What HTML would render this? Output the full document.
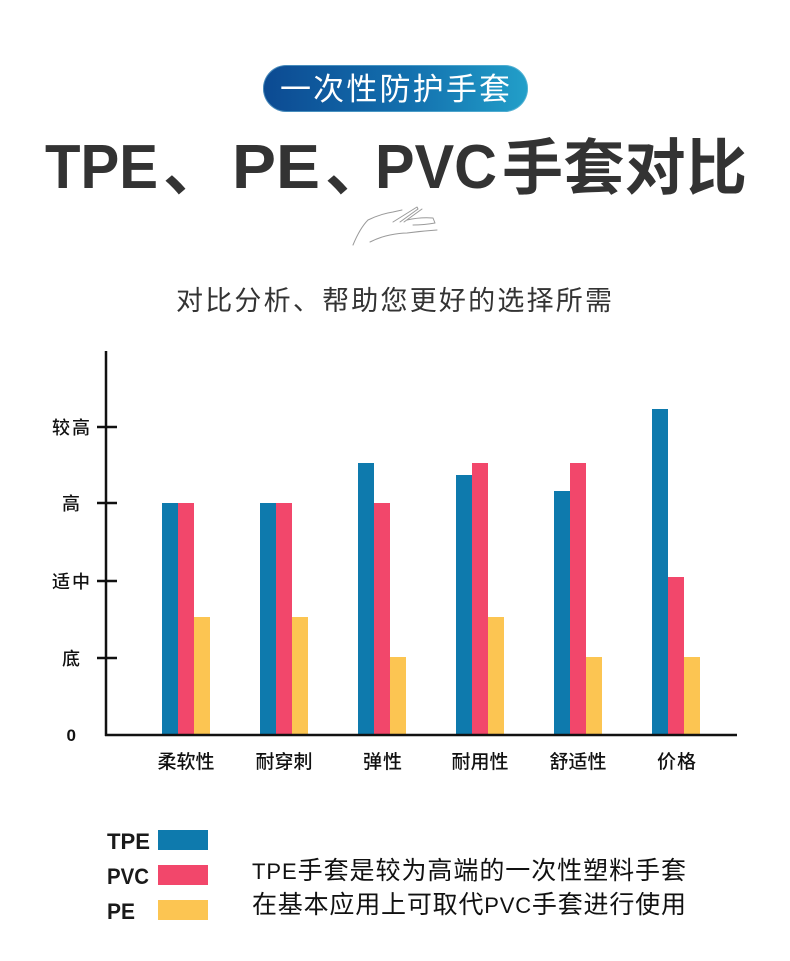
<!DOCTYPE html>
<html>
<head>
<meta charset="utf-8">
<style>
html,body{margin:0;padding:0;background:#fff;}
body{width:790px;height:961px;overflow:hidden;}
svg{display:block;}
</style>
</head>
<body>
<svg width="790" height="961" viewBox="0 0 790 961" xmlns="http://www.w3.org/2000/svg">
  <defs>
    <linearGradient id="bg" x1="0" y1="0" x2="1" y2="0">
      <stop offset="0" stop-color="#0c4a92"/>
      <stop offset="0.55" stop-color="#1370ae"/>
      <stop offset="1" stop-color="#229fc9"/>
    </linearGradient>
  </defs>
  <rect x="0" y="0" width="790" height="961" fill="#fff"/>

  <!-- badge -->
  <rect x="263" y="65" width="265" height="47" rx="23.5" ry="23.5" fill="url(#bg)"/>
  <rect x="263.5" y="65.5" width="264" height="46" rx="23" ry="23" fill="none" stroke="#7fc6e0" stroke-opacity="0.5" stroke-width="1"/>
  <text x="280" y="100" font-size="31" fill="#fff" font-family="Liberation Sans, Noto Sans CJK SC, sans-serif" textLength="230" lengthAdjust="spacing">一次性防护手套</text>

  <!-- title -->
  <g font-family="Liberation Sans, Noto Sans CJK SC, sans-serif" font-weight="bold" fill="#333">
    <text x="45" y="188" font-size="62" textLength="113" lengthAdjust="spacingAndGlyphs">TPE</text>
    <text x="163" y="190" font-size="62">、</text>
    <text x="232" y="188" font-size="62" textLength="88" lengthAdjust="spacingAndGlyphs">PE</text>
    <text x="325" y="190" font-size="62">、</text>
    <text x="375" y="188" font-size="62" textLength="122" lengthAdjust="spacingAndGlyphs">PVC</text>
    <text x="502" y="189" font-size="61" textLength="245" lengthAdjust="spacing">手套对比</text>
  </g>

  <!-- hand sketch -->
  <g fill="none" stroke="#9a9a9a" stroke-width="1" stroke-linecap="round" stroke-linejoin="round">
    <path d="M353 245 Q360 228 368 220 Q380 214 393 212 L402 210"/>
    <path d="M393 222 L417 207 L418 209 L400 222"/>
    <path d="M404 222 L422 209"/>
    <path d="M407 220 Q420 217 433 218 L435 223 Q424 225 413 225"/>
    <path d="M370 242 Q380 237 390 235 Q400 233 407 233 Q422 231 437 230"/>
  </g>

  <!-- subtitle -->
  <text x="176" y="310" font-size="27" fill="#333" font-family="Liberation Sans, Noto Sans CJK SC, sans-serif" textLength="436" lengthAdjust="spacing">对比分析、帮助您更好的选择所需</text>

  <!-- bars -->
  <g>
    <rect x="162" y="503" width="16" height="232" fill="#0e7aad"/>
    <rect x="178" y="503" width="16" height="232" fill="#f2476b"/>
    <rect x="194" y="617" width="16" height="118" fill="#fcc552"/>
    <rect x="260" y="503" width="16" height="232" fill="#0e7aad"/>
    <rect x="276" y="503" width="16" height="232" fill="#f2476b"/>
    <rect x="292" y="617" width="16" height="118" fill="#fcc552"/>
    <rect x="358" y="463" width="16" height="272" fill="#0e7aad"/>
    <rect x="374" y="503" width="16" height="232" fill="#f2476b"/>
    <rect x="390" y="657" width="16" height="78" fill="#fcc552"/>
    <rect x="456" y="475" width="16" height="260" fill="#0e7aad"/>
    <rect x="472" y="463" width="16" height="272" fill="#f2476b"/>
    <rect x="488" y="617" width="16" height="118" fill="#fcc552"/>
    <rect x="554" y="491" width="16" height="244" fill="#0e7aad"/>
    <rect x="570" y="463" width="16" height="272" fill="#f2476b"/>
    <rect x="586" y="657" width="16" height="78" fill="#fcc552"/>
    <rect x="652" y="409" width="16" height="326" fill="#0e7aad"/>
    <rect x="668" y="577" width="16" height="158" fill="#f2476b"/>
    <rect x="684" y="657" width="16" height="78" fill="#fcc552"/>
  </g>

  <!-- axes -->
  <g stroke="#111" stroke-width="2.5" fill="none">
    <line x1="106" y1="351" x2="106" y2="736"/>
    <line x1="105" y1="735" x2="737" y2="735"/>
    <line x1="97" y1="427" x2="117" y2="427"/>
    <line x1="97" y1="503" x2="117" y2="503"/>
    <line x1="97" y1="581" x2="117" y2="581"/>
    <line x1="97" y1="658" x2="117" y2="658"/>
  </g>

  <!-- y labels -->
  <g font-family="Liberation Sans, Noto Sans CJK SC, sans-serif" font-size="18" font-weight="500" fill="#111">
    <text x="52" y="434" textLength="38" lengthAdjust="spacing">较高</text>
    <text x="62" y="510">高</text>
    <text x="52" y="588" textLength="38" lengthAdjust="spacing">适中</text>
    <text x="62" y="665">底</text>
    <text x="66.5" y="741" font-size="17" font-weight="bold">0</text>
  </g>

  <!-- x labels -->
  <g font-family="Liberation Sans, Noto Sans CJK SC, sans-serif" font-size="19" font-weight="500" fill="#111">
    <text x="157.5" y="768" textLength="57" lengthAdjust="spacing">柔软性</text>
    <text x="255.5" y="768" textLength="57" lengthAdjust="spacing">耐穿刺</text>
    <text x="363" y="768" textLength="39" lengthAdjust="spacing">弹性</text>
    <text x="451.5" y="768" textLength="57" lengthAdjust="spacing">耐用性</text>
    <text x="549.5" y="768" textLength="57" lengthAdjust="spacing">舒适性</text>
    <text x="657" y="768" textLength="39" lengthAdjust="spacing">价格</text>
  </g>

  <!-- legend -->
  <g font-family="Liberation Sans, Noto Sans CJK SC, sans-serif" font-size="22" font-weight="bold" fill="#1a1a1a">
    <text x="107" y="849" textLength="43" lengthAdjust="spacingAndGlyphs">TPE</text>
    <text x="107" y="884" textLength="42" lengthAdjust="spacingAndGlyphs">PVC</text>
    <text x="107" y="919" textLength="28" lengthAdjust="spacingAndGlyphs">PE</text>
  </g>
  <rect x="158" y="830" width="50" height="20" fill="#0e7aad"/>
  <rect x="158" y="865" width="50" height="20" fill="#f2476b"/>
  <rect x="158" y="900" width="50" height="20" fill="#fcc552"/>

  <g font-family="Liberation Sans, Noto Sans CJK SC, sans-serif" fill="#111">
    <text x="252" y="879" font-size="25" textLength="434" lengthAdjust="spacing"><tspan font-size="22">TPE</tspan>手套是较为高端的一次性塑料手套</text>
    <text x="252" y="913" font-size="25" textLength="434" lengthAdjust="spacing">在基本应用上可取代<tspan font-size="22">PVC</tspan>手套进行使用</text>
  </g>
</svg>
</body>
</html>
